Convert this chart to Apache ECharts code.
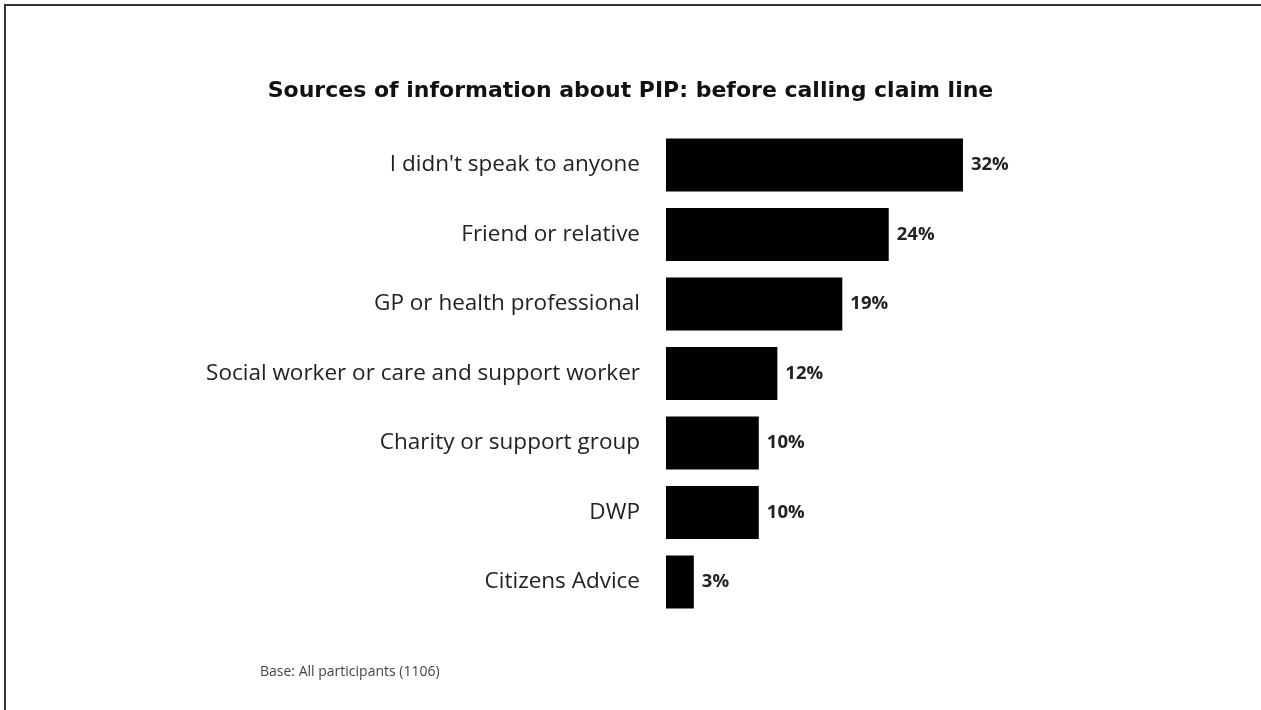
<!DOCTYPE html>
<html>
<head>
<meta charset="utf-8">
<style>
  html, body { margin: 0; padding: 0; background: #fff; }
  #chart { width: 1261px; height: 710px; }
</style>
<script src="https://cdn.jsdelivr.net/npm/echarts@6/dist/echarts.min.js"></script>
</head>
<body>
<div id="chart"></div>
<script>
// Share of participants naming each source, in per cent
const categories = [
  "I didn't speak to anyone",
  "Friend or relative",
  "GP or health professional",
  "Social worker or care and support worker",
  "Charity or support group",
  "DWP",
  "Citizens Advice"
];
const values = [32, 24, 19, 12, 10, 10, 3];

const titleText = "Sources of information about PIP: before calling claim line";
const baseNote = "Base: All participants (1106)";

const chart = echarts.init(document.getElementById('chart'), null, { renderer: 'canvas' });

chart.setOption({
  backgroundColor: '#ffffff',
  animation: false,
  title: {
    text: titleText,
    left: 'center',
    top: 80,
    padding: 0,
    textStyle: {
      fontFamily: 'DejaVu Sans',
      fontWeight: 'bold',
      fontSize: 22,
      color: '#111'
    }
  },
  grid: {
    left: 666,
    right: 223.8,
    top: 130.25,
    bottom: 93.25,
    containLabel: false
  },
  xAxis: {
    type: 'value',
    min: 0,
    max: 40,
    show: false
  },
  yAxis: {
    type: 'category',
    data: categories,
    inverse: true,
    axisLine: { show: false },
    axisTick: { show: false },
    splitLine: { show: false },
    axisLabel: {
      margin: 26,
      fontFamily: 'Open Sans',
      fontSize: 22.5,
      color: '#222'
    }
  },
  series: [{
    type: 'bar',
    data: values,
    barCategoryGap: '24%',
    itemStyle: { color: '#000' },
    label: {
      show: true,
      position: 'right',
      distance: 8,
      formatter: '{c}%',
      fontFamily: 'Open Sans',
      fontWeight: 'bold',
      fontSize: 18.5,
      color: '#222'
    }
  }],
  graphic: [
    {
      type: 'rect',
      shape: { x: 5, y: 5, width: 1400, height: 900 },
      style: { fill: 'none', stroke: '#333', lineWidth: 2 },
      silent: true
    },
    {
      type: 'text',
      x: 260,
      y: 672,
      style: {
        text: baseNote,
        fontFamily: 'Open Sans',
        fontSize: 14,
        fill: '#444',
        verticalAlign: 'middle'
      }
    }
  ]
});
</script>
</body>
</html>
